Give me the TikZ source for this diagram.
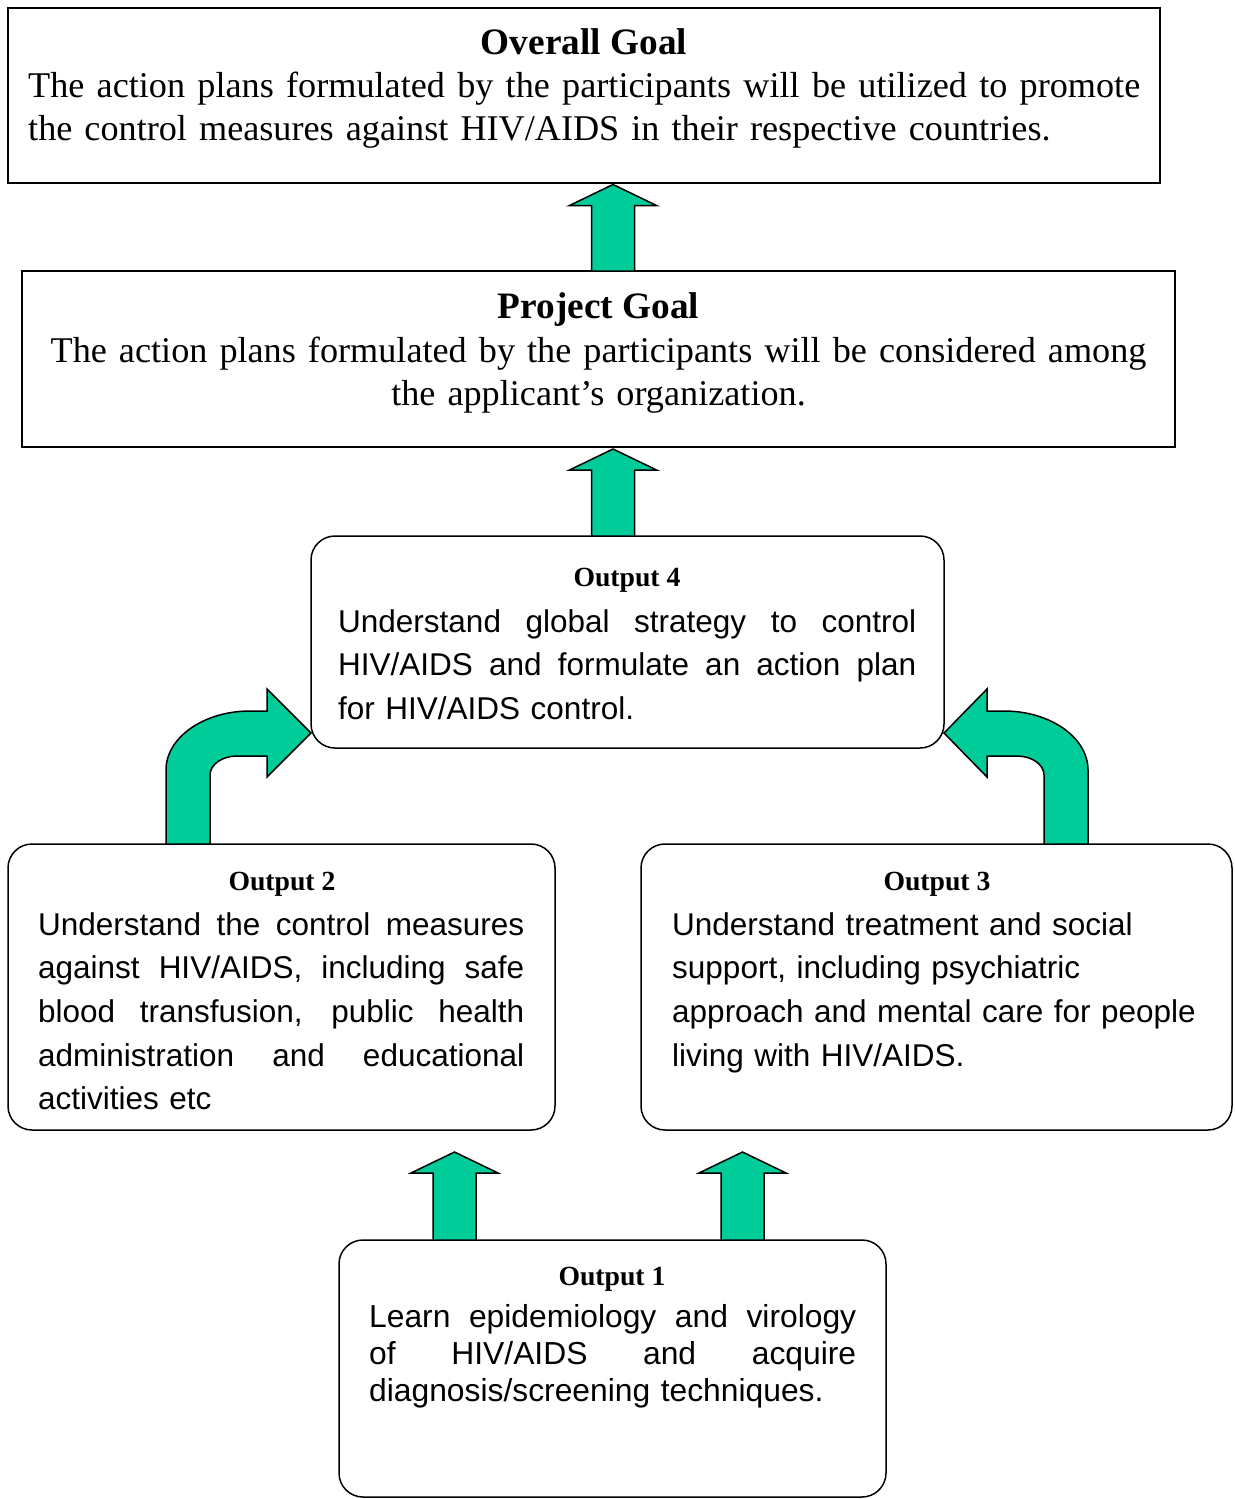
\documentclass[tikz,border=0pt]{standalone}
\usepackage{fontspec}
\setmainfont{Liberation Serif}
\newfontfamily\arialf{Liberation Sans}
\usetikzlibrary{calc}
\definecolor{arrowgreen}{RGB}{0,204,153}
\tikzset{
  box/.style={draw=black, line width=1.5pt, inner sep=0pt, outer sep=0pt},
  rbox/.style={box, rounded corners=24pt},
  blk/.style={draw=black, line width=1.5pt, fill=arrowgreen, line join=miter},
  bigtitle/.style={font=\fontsize{37.3}{43}\selectfont\bfseries, anchor=base, inner sep=0pt},
  bigtext/.style={font=\fontsize{36.2}{43}\selectfont, anchor=base west, inner sep=0pt},
  outtitle/.style={font=\fontsize{27.7}{32}\selectfont\bfseries, anchor=base, inner sep=0pt},
  outtext/.style={font=\arialf\fontsize{31.5}{43.7}\selectfont, anchor=base west, inner sep=0pt},
}
\newcommand\jl[2]{\makebox[#1pt][s]{\spaceskip=\fontdimen2\font plus 1fil minus 2pt\relax #2}}
% straight block arrow: x centre, base anchor, tip anchor, gap below tip anchor
\newcommand\upblock[4]{%
  \draw[blk] let \p1=(#2), \p2=(#3) in
    ({#1pt-21.5pt},\y1) -- ({#1pt-21.5pt},{\y2-#4pt-21pt}) --
    ({#1pt-43.5pt},{\y2-#4pt-21pt}) -- ({#1pt},{\y2-#4pt}) --
    ({#1pt+43.5pt},{\y2-#4pt-21pt}) -- ({#1pt+21.5pt},{\y2-#4pt-21pt}) --
    ({#1pt+21.5pt},\y1) -- cycle;}
\begin{document}
\begin{tikzpicture}[x=1pt,y=-1pt]
\useasboundingbox (0,0) rectangle (1234,1499);

% boxes
\node[box, minimum width=1152pt, minimum height=175pt] (og) at (584,95.5) {};
\node[box, minimum width=1153pt, minimum height=176pt] (pg) at (598.5,359) {};
\node[rbox, minimum width=633pt, minimum height=212pt] (o4) at (627.5,642) {};
\node[rbox, minimum width=547pt, minimum height=286pt] (o2) at (281.5,987) {};
\node[rbox, minimum width=591pt, minimum height=286pt] (o3) at (936.5,987) {};
\node[rbox, minimum width=547pt, minimum height=257pt] (o1) at (612.5,1368.5) {};

% texts
\node[bigtitle] (ogt) at (584,54) {Overall Goal};
\node[bigtext, text width=1112pt] (ogx) at (28,97) {\jl{1112}{The action plans formulated by the participants will be utilized to promote}\\the control measures against HIV/AIDS in their respective countries.};

\node[bigtitle] (pgt) at (598.5,318) {Project Goal};
\node[bigtext, anchor=base, text width=1140pt, align=center] (pgx) at (598.5,362) {The action plans formulated by the participants will be considered among\\the applicant’s organization.};

\node[outtitle] (o4t) at (627,586) {Output 4};
\node[outtext, text width=578pt] (o4x) at (338,632) {\jl{578}{Understand global strategy to control}\\\jl{578}{HIV/AIDS and formulate an action plan}\\for HIV/AIDS control.};

\node[outtitle] (o2t) at (282,890) {Output 2};
\node[outtext, text width=486pt] (o2x) at (38,935) {\jl{486}{Understand the control measures}\\\jl{486}{against HIV/AIDS, including safe}\\\jl{486}{blood transfusion, public health}\\\jl{486}{administration and educational}\\activities etc};

\node[outtitle] (o3t) at (937,890) {Output 3};
\node[outtext, text width=550pt, align=left] (o3x) at (672,935) {Understand treatment and social\\support, including psychiatric\\approach and mental care for people\\living with HIV/AIDS.};

\node[outtitle] (o1t) at (612,1285) {Output 1};
\node[outtext, font=\arialf\fontsize{31.8}{37}\selectfont, text width=487pt] (o1x) at (369,1327) {\jl{487}{Learn epidemiology and virology}\\\jl{487}{of HIV/AIDS and acquire}\\diagnosis/screening techniques.};

% straight block arrows
\upblock{613}{pg.north}{og.south}{1.5}
\upblock{613}{o4.north}{pg.south}{2}
\upblock{454.5}{o1.north}{o2.south}{22}
\upblock{742.5}{o1.north}{o3.south}{22}

% curved block arrows
\draw[blk] let \p1=(o2.north), \p2=(o4.west) in
  (166pt,\y1) -- (166,770) .. controls (166,737.5) and (203.8,711) .. (250,711)
  -- (267,711) -- (267,689) -- (\x2,-733pt) -- (267,777) -- (267,756) -- (237,756)
  .. controls (222.2,756) and (210,764.5) .. (210,775) -- (210pt,\y1) -- cycle;
\draw[blk] let \p1=(o3.north), \p2=(o4.east) in
  (1088pt,\y1) -- (1088,770) .. controls (1088,737.5) and (1050.2,711) .. (1004,711)
  -- (987,711) -- (987,689) -- (\x2,-733pt) -- (987,777) -- (987,756) -- (1017,756)
  .. controls (1031.8,756) and (1044,764.5) .. (1044,775) -- (1044pt,\y1) -- cycle;
\end{tikzpicture}
\end{document}
